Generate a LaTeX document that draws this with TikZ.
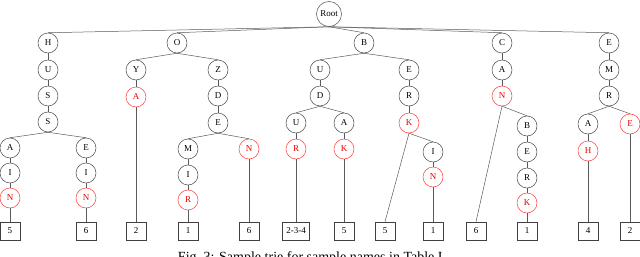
\documentclass[tikz,border=0pt]{standalone}
\usepackage{fontspec}
\setmainfont{Liberation Serif}
\begin{document}
\begin{tikzpicture}[x=1pt,y=-1pt,
  tn/.style={circle,draw=black!70,line width=0.5pt,minimum size=20pt,inner sep=0pt,font=\fontsize{9}{9}\selectfont},
  rn/.style={tn,draw=red!75,text=red!90!black},
  lf/.style={rectangle,draw=black!75,line width=0.6pt,minimum width=20pt,minimum height=18pt,inner xsep=3.5pt,inner ysep=0pt,font=\fontsize{9}{9}\selectfont},
  ed/.style={draw=black!65,line width=0.5pt}]
\useasboundingbox (0,0) rectangle (640,257);
% root
\node[tn,inner sep=2.5pt] (root) at (329,14) {Root};
% H branch
\node[tn] (h) at (48,43) {H};
\node[tn] (hu) at (48,70) {U};
\node[tn] (hus) at (48,96) {S};
\node[tn] (huss) at (48,122) {S};
\node[tn] (a1) at (10,148) {A};
\node[tn] (a1i) at (10,173) {I};
\node[rn] (a1n) at (10,198) {N};
\node[lf] (b5a) at (10,231) {5};
\node[tn] (e1) at (86,148) {E};
\node[tn] (e1i) at (86,173) {I};
\node[rn] (e1n) at (86,198) {N};
\node[lf] (b6a) at (86,231) {6};
% O branch
\node[tn] (o) at (177,43) {O};
\node[tn] (oy) at (136,70) {Y};
\node[rn] (oya) at (136,97) {A};
\node[lf] (b2a) at (136,231) {2};
\node[tn] (oz) at (218,70) {Z};
\node[tn] (ozd) at (218,96) {D};
\node[tn] (oze) at (218,123) {E};
\node[tn] (ozm) at (188,149) {M};
\node[tn] (ozi) at (188,175) {I};
\node[rn] (ozr) at (188,200) {R};
\node[lf] (b1a) at (188,231) {1};
\node[rn] (ozn) at (249,149) {N};
\node[lf] (b6b) at (249,231) {6};
% B branch
\node[tn] (b) at (364,43) {B};
\node[tn] (bu) at (320,70) {U};
\node[tn] (bud) at (320,96) {D};
\node[tn] (buu) at (296,123) {U};
\node[tn] (bua) at (344,123) {A};
\node[rn] (bur) at (296,149) {R};
\node[rn] (buk) at (344,149) {K};
\node[lf] (b234) at (296,231) {2-3-4};
\node[lf] (b5b) at (344,231) {5};
\node[tn] (be) at (409,70) {E};
\node[tn] (ber) at (409,96) {R};
\node[rn] (bek) at (409,123) {K};
\node[lf] (b5c) at (385,231) {5};
\node[tn] (bei) at (433,152) {I};
\node[rn] (ben) at (433,177) {N};
\node[lf] (b1b) at (433,231) {1};
% C branch
\node[tn] (c) at (502,43) {C};
\node[tn] (ca) at (502,70) {A};
\node[rn] (cn) at (502,96) {N};
\node[lf] (b6c) at (476,231) {6};
\node[tn] (cb) at (527,126) {B};
\node[tn] (ce) at (527,152) {E};
\node[tn] (cr) at (527,178) {R};
\node[rn] (ck) at (527,203) {K};
\node[lf] (b1c) at (527,231) {1};
% E branch
\node[tn] (e) at (609,43) {E};
\node[tn] (em) at (609,70) {M};
\node[tn] (er) at (609,96) {R};
\node[tn] (ea) at (588,124) {A};
\node[rn] (eh) at (588,151) {H};
\node[lf] (b4) at (588,231) {4};
\node[rn] (ee) at (630,124) {E};
\node[lf] (b2b) at (630,231) {2};
% edges
\foreach \p/\q in {root/h,root/o,root/b,root/c,root/e,
  h/hu,hu/hus,hus/huss,huss/a1,a1/a1i,a1i/a1n,a1n/b5a,huss/e1,e1/e1i,e1i/e1n,e1n/b6a,
  o/oy,oy/oya,oya/b2a,o/oz,oz/ozd,ozd/oze,oze/ozm,ozm/ozi,ozi/ozr,ozr/b1a,oze/ozn,ozn/b6b,
  b/bu,bu/bud,bud/buu,bud/bua,buu/bur,bua/buk,bur/b234,buk/b5b,
  b/be,be/ber,ber/bek,bek/b5c,bek/bei,bei/ben,ben/b1b,
  c/ca,ca/cn,cn/b6c,cn/cb,cb/ce,ce/cr,cr/ck,ck/b1c,
  e/em,em/er,er/ea,ea/eh,eh/b4,er/ee,ee/b2b}
  \draw[ed] (\p.south) -- (\q.north);
% caption (cut off by the page edge as in the reference)
\node[font=\fontsize{14}{14}\selectfont,anchor=base,inner sep=0pt] (cap) at (312,261.5) {Fig.~3: Sample trie for sample names in Table~I.};
\end{tikzpicture}
\end{document}
